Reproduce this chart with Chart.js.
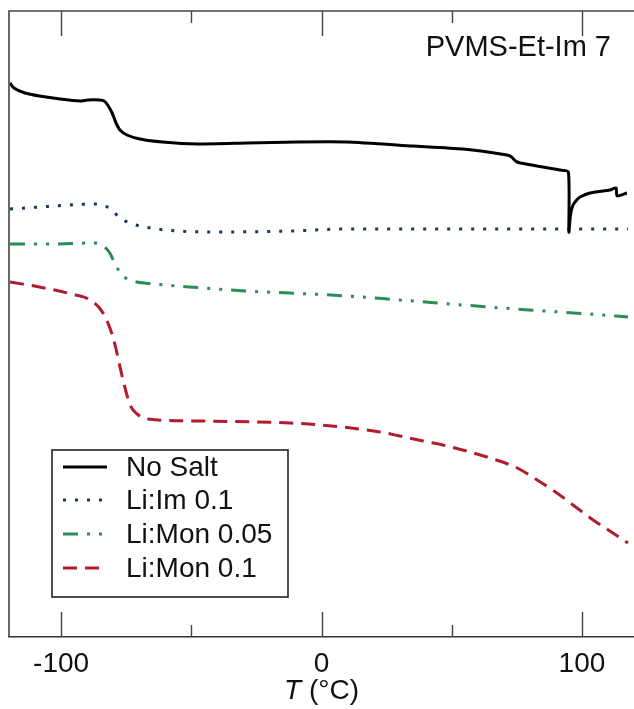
<!DOCTYPE html>
<html>
<head>
<meta charset="utf-8">
<script src="https://cdn.jsdelivr.net/npm/chart.js@4.4.0/dist/chart.umd.min.js"></script>
<style>
html, body { margin: 0; padding: 0; background: #fff; overflow: hidden; }
</style>
</head>
<body>
<canvas id="mainChart" width="634" height="709"></canvas>
<script>
// DSC traces, temperature in degC and heat flow in arbitrary units
const noSaltT  = [-119.6, -118.1, -113.9, -108.3, -100.4, -92.7, -89.7, -85.1, -83.5, -82.1, -80.4, -78.9, -77.4, -74.7, -69.7, -61.1, -47.8, -28.6, -9.4, 9.8, 35.1, 54.3, 71.2, 73.0, 74.5, 76.3, 91.5, 94.8, 95.0, 95.6, 96.6, 98.0, 99.3, 103.1, 110.8, 113.1, 113.5, 117.3]
const noSaltHF = [5.54, 5.49, 5.44, 5.41, 5.38, 5.36, 5.37, 5.37, 5.36, 5.32, 5.24, 5.14, 5.07, 5.02, 4.98, 4.95, 4.93, 4.94, 4.95, 4.95, 4.91, 4.88, 4.82, 4.80, 4.76, 4.74, 4.67, 4.65, 4.05, 4.22, 4.32, 4.37, 4.40, 4.44, 4.47, 4.49, 4.41, 4.44]

const liIm01T  = [-119.6, -108.3, -96.6, -87.0, -83.5, -81.3, -77.8, -73.6, -69.7, -59.8, -41.0, -12.1, 9.8, 35.1, 91.5, 117.7]
const liIm01HF = [4.28, 4.30, 4.32, 4.33, 4.31, 4.29, 4.20, 4.14, 4.11, 4.07, 4.05, 4.06, 4.08, 4.08, 4.08, 4.08]

const liMon005T  = [-119.6, -104.5, -87.4, -83.3, -81.3, -79.4, -77.0, -73.6, -64.0, -44.8, -29.4, -12.1, 9.8, 30.1, 54.3, 79.7, 103.1, 117.7]
const liMon005HF = [3.93, 3.93, 3.94, 3.90, 3.84, 3.74, 3.63, 3.57, 3.53, 3.49, 3.46, 3.44, 3.41, 3.37, 3.32, 3.27, 3.23, 3.20]

const liMon01T  = [-119.6, -108.3, -96.0, -88.8, -83.9, -80.1, -76.2, -73.5, -70.8, -66.6, -46.7, -12.1, 0, 22.5, 30.1, 39.0, 48.2, 57.0, 65.9, 75.2, 82.8, 90.4, 98.1, 104.3, 111.9, 117.7]
const liMon01HF = [3.55, 3.50, 3.43, 3.37, 3.24, 3.00, 2.57, 2.32, 2.23, 2.18, 2.16, 2.14, 2.12, 2.05, 2.01, 1.96, 1.91, 1.85, 1.78, 1.69, 1.57, 1.44, 1.29, 1.17, 1.04, 0.94]

const seriesLabels = ["No Salt", "Li:Im 0.1", "Li:Mon 0.05", "Li:Mon 0.1"]
const tickValues = [-100, -50, 0, 50, 100]
const majorTicks = [-100, 0, 100]
const sampleName = "PVMS-Et-Im 7"

const fontFamily = "'Liberation Sans', Arial, Helvetica, sans-serif"

function toPoints(xs, ys) {
    return xs.map((t, i) => ({ x: t, y: ys[i] }))
}

// frame, inward ticks, legend box, sample label and axis title
const decorPlugin = {
    id: 'decor',
    afterDraw(chart) {
        const ctx = chart.ctx
        const a = chart.chartArea
        const x = chart.scales.x
        ctx.save()

        ctx.strokeStyle = '#444'
        ctx.lineWidth = 1.6
        ctx.beginPath()
        ctx.moveTo(a.left, a.bottom)
        ctx.lineTo(a.left, a.top)
        ctx.lineTo(chart.width, a.top)
        ctx.stroke()

        ctx.lineWidth = 1.4
        tickValues.forEach(v => {
            const px = Math.round(x.getPixelForValue(v)) + 0.5
            const len = majorTicks.includes(v) ? 25 : 12
            ctx.beginPath()
            ctx.moveTo(px, a.bottom)
            ctx.lineTo(px, a.bottom - len)
            ctx.moveTo(px, a.top)
            ctx.lineTo(px, a.top + len)
            ctx.stroke()
        })

        // sample name
        ctx.fillStyle = '#111'
        ctx.font = '29px ' + fontFamily
        ctx.textAlign = 'right'
        ctx.textBaseline = 'middle'
        ctx.fillText(sampleName, 611, 48)

        // legend
        const box = { left: 52, top: 450, width: 236, height: 147 }
        ctx.fillStyle = '#fff'
        ctx.fillRect(box.left, box.top, box.width, box.height)
        ctx.strokeStyle = '#222'
        ctx.lineWidth = 1.6
        ctx.strokeRect(box.left, box.top, box.width, box.height)
        const rowY = [467, 500, 534, 568]
        chart.data.datasets.forEach((ds, i) => {
            ctx.strokeStyle = ds.borderColor
            ctx.lineWidth = ds.borderWidth
            ctx.setLineDash(ds.borderDash || [])
            ctx.beginPath()
            ctx.moveTo(63, rowY[i])
            ctx.lineTo(107, rowY[i])
            ctx.stroke()
            ctx.setLineDash([])
            ctx.fillStyle = '#111'
            ctx.textAlign = 'left'
            ctx.font = '28px ' + fontFamily
            ctx.fillText(ds.label, 126, rowY[i] + 1)
        })

        // axis title, italic T
        const cx = x.getPixelForValue(0)
        ctx.font = 'italic 28px ' + fontFamily
        const wT = ctx.measureText('T').width
        ctx.font = '28px ' + fontFamily
        const rest = ' (°C)'
        const wR = ctx.measureText(rest).width
        const startX = cx - (wT + wR) / 2
        ctx.textAlign = 'left'
        ctx.fillStyle = '#111'
        ctx.font = 'italic 28px ' + fontFamily
        ctx.fillText('T', startX, 691)
        ctx.font = '28px ' + fontFamily
        ctx.fillText(rest, startX + wT, 691)

        ctx.restore()
    }
}

const ctx = document.getElementById('mainChart').getContext('2d')
window.myChart = new Chart(ctx, {
    type: 'line',
    data: {
        datasets: [
            {
                label: seriesLabels[0],
                data: toPoints(noSaltT, noSaltHF),
                borderColor: '#000000',
                borderWidth: 3,
                tension: 0.2
            },
            {
                label: seriesLabels[1],
                data: toPoints(liIm01T, liIm01HF),
                borderColor: '#1b365f',
                borderWidth: 3,
                borderDash: [3, 9],
                cubicInterpolationMode: 'monotone'
            },
            {
                label: seriesLabels[2],
                data: toPoints(liMon005T, liMon005HF),
                borderColor: '#2a8c56',
                borderWidth: 3,
                borderDash: [15, 9, 3, 9, 3, 9],
                cubicInterpolationMode: 'monotone'
            },
            {
                label: seriesLabels[3],
                data: toPoints(liMon01T, liMon01HF),
                borderColor: '#b01c2b',
                borderWidth: 3,
                borderDash: [14, 8],
                cubicInterpolationMode: 'monotone'
            }
        ]
    },
    options: {
        responsive: false,
        animation: false,
        layout: { padding: { left: 9, top: 11, right: 0, bottom: 0 } },
        plugins: {
            legend: { display: false },
            tooltip: { enabled: false }
        },
        elements: { point: { radius: 0 } },
        scales: {
            x: {
                type: 'linear',
                min: -120,
                max: 120,
                afterBuildTicks: s => { s.ticks = tickValues.map(v => ({ value: v })) },
                afterFit: s => { s.height = 72 },
                grid: { display: false, drawTicks: false },
                border: { display: true, color: '#333', width: 1.6 },
                ticks: {
                    callback: v => majorTicks.includes(v) ? String(v) : '',
                    font: { family: fontFamily, size: 28 },
                    color: '#111',
                    padding: 10,
                    maxRotation: 0,
                    autoSkip: false
                }
            },
            y: { display: false, min: 0, max: 6.26 }
        }
    },
    plugins: [decorPlugin]
})
</script>
</body>
</html>
